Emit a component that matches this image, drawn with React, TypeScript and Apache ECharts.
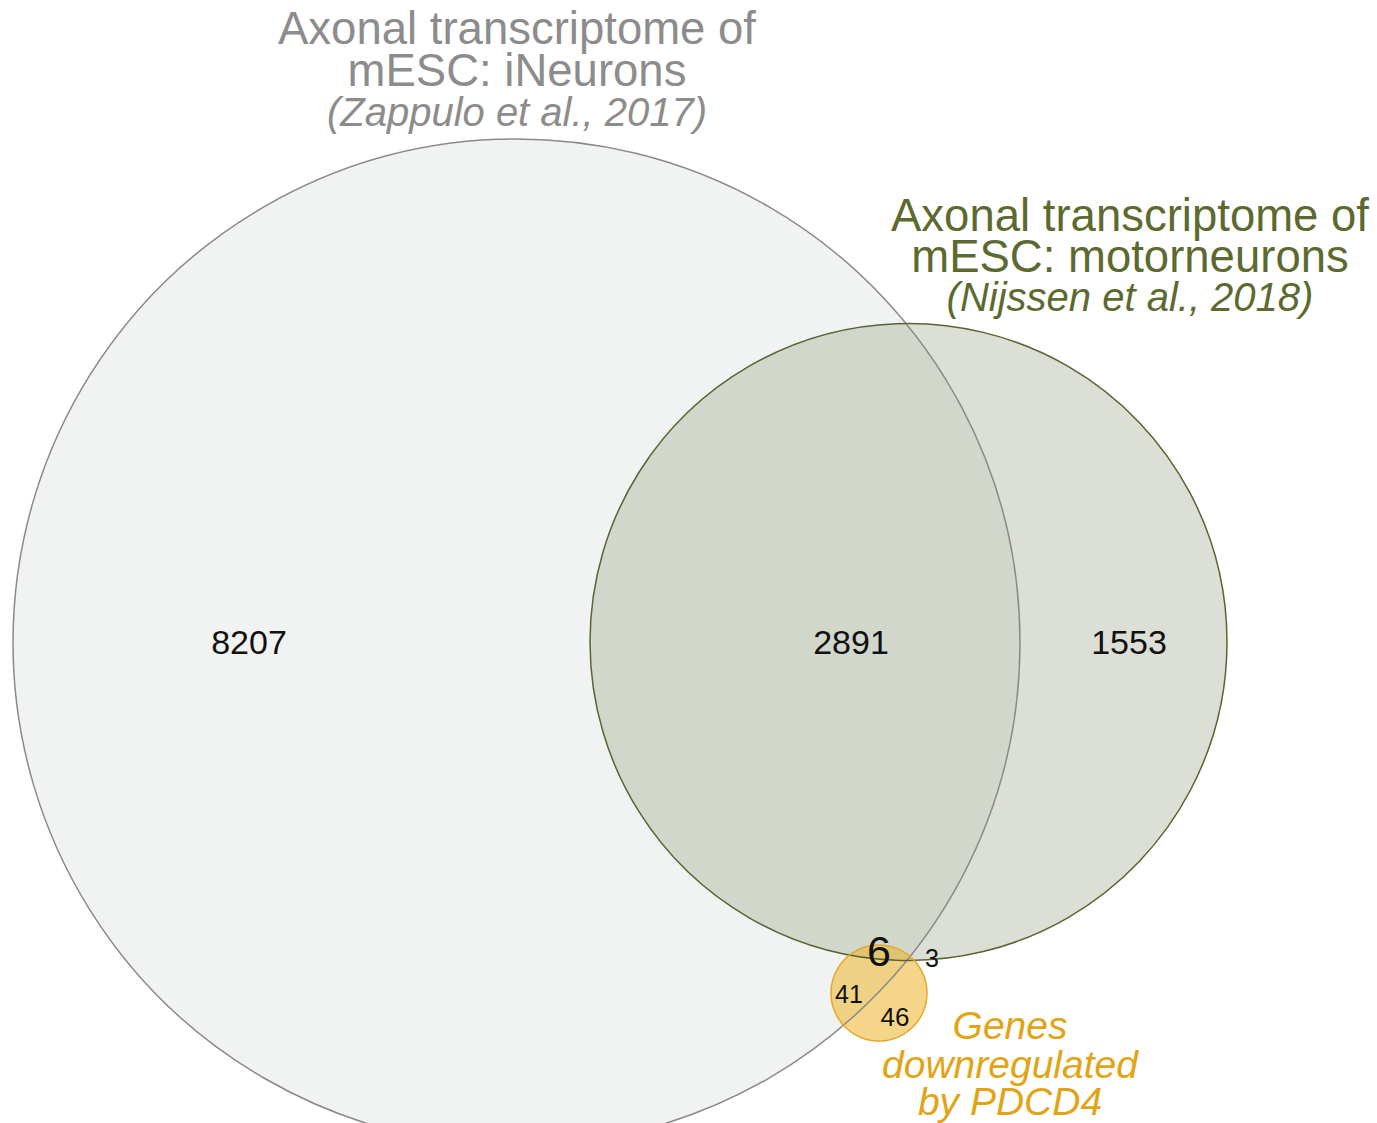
import { useEffect, useRef } from "react";
import * as echarts from "echarts";

// ---- Data ----
const setKeys = ["iNeurons", "motorneurons", "PDCD4"];
const circleCx = [516.5, 908.5, 879];
const circleCy = [642.5, 642, 993];
const circleR = [503.5, 318.5, 48];

const regionCounts = [8207, 2891, 1553, 6, 3, 41, 46];
const regionX = [249, 851, 1129, 879, 932, 849, 895];
const regionY = [642, 642, 642, 951, 958, 994, 1017];

const titleLeft = ["Axonal transcriptome of", "mESC: iNeurons", "(Zappulo et al., 2017)"];
const titleRight = ["Axonal transcriptome of", "mESC: motorneurons", "(Nijssen et al., 2018)"];
const titleSmall = ["Genes", "downregulated", "by PDCD4"];

const FONT = "'Liberation Sans', Arial, sans-serif";
const fills = ["#f1f3f2", "rgba(150,158,128,0.33)", "rgba(236,180,40,0.55)"];
const strokes = ["#8a8a8a", "#5b6332", "#e3a82a"];
const countSizes = [34, 34, 34, 43, 25, 25, 26];

export default function App() {
  const ref = useRef<HTMLDivElement>(null);
  useEffect(() => {
    if (!ref.current) return;
    const chart = echarts.init(ref.current, undefined, { renderer: "svg" });
    const circles = setKeys.map((k, i) => [circleCx[i], circleCy[i], circleR[i], i]);
    const labels = regionCounts.map((c, i) => [regionX[i], regionY[i], c, i]);

    const circleSeries = (mode: "fill" | "stroke") => ({
      type: "custom",
      coordinateSystem: "cartesian2d",
      silent: true,
      clip: false,
      data: circles,
      renderItem: (_p: any, api: any) => {
        const c = api.coord([api.value(0), api.value(1)]);
        const rr = api.size([api.value(2), 0])[0];
        const idx = api.value(3);
        return {
          type: "circle",
          shape: { cx: c[0], cy: c[1], r: rr },
          style:
            mode === "fill"
              ? { fill: fills[idx], stroke: "none" }
              : { fill: "none", stroke: strokes[idx], lineWidth: 1.5 },
        };
      },
    });

    const textLines = (
      lines: string[],
      x: number,
      ys: number[],
      color: string,
      sizes: number[],
      italics: boolean[]
    ) =>
      lines.map((t, i) => ({
        type: "text",
        x,
        y: ys[i],
        silent: true,
        style: {
          text: t,
          fill: color,
          font: `${italics[i] ? "italic " : ""}${sizes[i]}px ${FONT}`,
          align: "center",
          verticalAlign: "middle",
        },
      }));

    chart.setOption({
      animation: false,
      backgroundColor: "#ffffff",
      grid: { left: 0, right: 0, top: 0, bottom: 0 },
      xAxis: { type: "value", min: 0, max: 1377, show: false },
      yAxis: { type: "value", min: 0, max: 1123, inverse: true, show: false },
      series: [
        circleSeries("fill"),
        circleSeries("stroke"),
        {
          type: "custom",
          coordinateSystem: "cartesian2d",
          silent: true,
          clip: false,
          data: labels,
          renderItem: (_p: any, api: any) => {
            const c = api.coord([api.value(0), api.value(1)]);
            const idx = api.value(3);
            return {
              type: "text",
              x: c[0],
              y: c[1],
              style: {
                text: String(api.value(2)),
                fill: "#111111",
                font: `${countSizes[idx]}px ${FONT}`,
                align: "center",
                verticalAlign: "middle",
              },
            };
          },
        },
      ],
      graphic: [
        ...textLines(titleLeft, 517, [28, 70, 112], "#8c8c8c", [45.5, 45.5, 40], [false, false, true]),
        ...textLines(titleRight, 1130, [215, 256, 297], "#5c6a30", [45.5, 45.5, 40], [false, false, true]),
        ...textLines(titleSmall, 1010, [1025, 1064, 1101], "#e2a414", [39, 39, 39], [true, true, true]),
      ],
    });
    return () => chart.dispose();
  }, []);
  return (
    <div
      ref={ref}
      style={{ position: "fixed", left: 0, top: 0, width: 1377, height: 1123, background: "#fff" }}
    />
  );
}
